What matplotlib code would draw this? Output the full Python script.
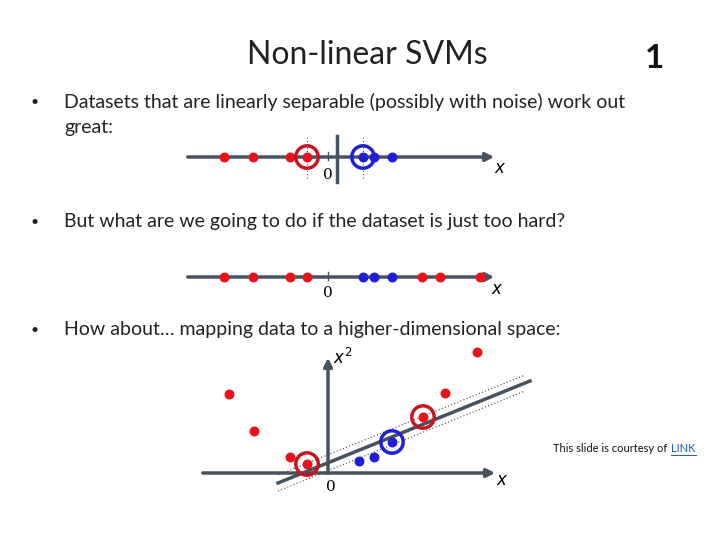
import matplotlib.pyplot as plt

# 1-D examples (positions along the axis, 0 at x=328 px)
easy_red = [224, 253, 290, 307]
easy_blue = [363, 374, 392]
hard_red = [224, 253, 290, 307, 422, 440, 480]
hard_blue = [363, 374, 392]
# mapped 2-D example (x, x^2 in slide pixel coords)
map_red_x = [229, 254, 290, 307, 423, 445, 477]
map_red_y = [394, 431, 457, 464, 417, 393, 352]
map_blue_x = [359, 374, 392]
map_blue_y = [461, 457, 442]
sv_red = [(307, 157), (307, 464), (423, 417)]
sv_blue = [(363, 157), (392, 442)]

RED = '#e8141c'
BLUE = '#1f1fd6'
AX = '#47525e'
plt.rcParams['font.family'] = ['Lato', 'DejaVu Sans']

fig = plt.figure(figsize=(7.2, 5.4), dpi=100)
ax = fig.add_axes([0, 0, 1, 1])
ax.set_xlim(0, 720)
ax.set_ylim(540, 0)
ax.axis('off')

# titles and bullets
ax.text(367, 55, 'Non-linear SVMs', fontsize=23, ha='center', va='center', color='#222')
ax.text(655, 58, '1', fontsize=24, fontweight='bold', ha='center', va='center', color='#111')
bul = dict(fontsize=14, va='center', color='#222')
ax.text(30, 102, '•', fontsize=10, va='center', color='#222')
ax.text(64, 102, 'Datasets that are linearly separable (possibly with noise) work out', **bul)
ax.text(64, 128, 'great:', **bul)
ax.text(30, 222, '•', fontsize=10, va='center', color='#222')
ax.text(64, 222, 'But what are we going to do if the dataset is just too hard?', **bul)
ax.text(30, 330, '•', fontsize=10, va='center', color='#222')
ax.text(64, 330, 'How about… mapping data to a higher-dimensional space:', **bul)


def axis_line(y, x0, x1):
    ax.annotate('', xy=(x1, y), xytext=(x0, y),
                arrowprops=dict(arrowstyle='-|>', color=AX, lw=2.5, mutation_scale=12))
    ax.plot([328, 328], [y - 5, y + 3], color=AX, lw=1)


# easy line
axis_line(157, 185, 497)
ax.plot([337, 337], [136, 182], color=AX, lw=2.5)
for xv in (307, 363):
    ax.plot([xv, xv], [137, 179], color='#444', lw=0.8, ls=(0, (1, 2)))
ax.scatter(easy_red, [157] * len(easy_red), s=38, color=RED, zorder=3)
ax.scatter(easy_blue, [157] * len(easy_blue), s=38, color=BLUE, zorder=3)
ax.text(328, 175, '0', fontsize=11, family='DejaVu Serif', ha='center', va='center')
ax.text(500, 168, '$x$', fontsize=12, ha='center', va='center')

# hard line
axis_line(277, 185, 497)
ax.scatter(hard_red, [277] * len(hard_red), s=38, color=RED, zorder=3)
ax.scatter(hard_blue, [277] * len(hard_blue), s=38, color=BLUE, zorder=3)
ax.text(328, 293, '0', fontsize=11, family='DejaVu Serif', ha='center', va='center')
ax.text(497, 289, '$x$', fontsize=12, ha='center', va='center')

# mapped plane
ax.annotate('', xy=(498, 473), xytext=(200, 473),
            arrowprops=dict(arrowstyle='-|>', color=AX, lw=2.5, mutation_scale=12))
ax.annotate('', xy=(328, 355), xytext=(328, 476),
            arrowprops=dict(arrowstyle='-|>', color=AX, lw=2.5, mutation_scale=12))
ax.plot([278, 530], [483, 381], color=AX, lw=2.5)
for d in (-8, 8):
    ax.plot([278, 525], [483 + d, 383 + d], color='#444', lw=0.8, ls=(0, (1, 2)))
ax.scatter(map_red_x, map_red_y, s=38, color=RED, zorder=3)
ax.scatter(map_blue_x, map_blue_y, s=38, color=BLUE, zorder=3)
ax.text(331, 487, '0', fontsize=11, family='DejaVu Serif', ha='center', va='center')
ax.text(502, 480, '$x$', fontsize=12, ha='center', va='center')
ax.text(343, 357, '$x^2$', fontsize=12, ha='center', va='center')

# support vector rings
for xv, yv in sv_red:
    ax.scatter([xv], [yv], s=260, facecolors='none', edgecolors='#c8141c', lw=2.5, zorder=4)
for xv, yv in sv_blue:
    ax.scatter([xv], [yv], s=260, facecolors='none', edgecolors=BLUE, lw=2.5, zorder=4)

# footnote
ax.text(670, 449, 'This slide is courtesy of ', fontsize=8, ha='right', va='center', color='#111')
ax.text(671, 449, 'LINK', fontsize=8, ha='left', va='center', color='#1a5fb4')
ax.plot([671, 696], [455, 455], color='#1a5fb4', lw=0.7)

fig.savefig('out.png', dpi=100)
